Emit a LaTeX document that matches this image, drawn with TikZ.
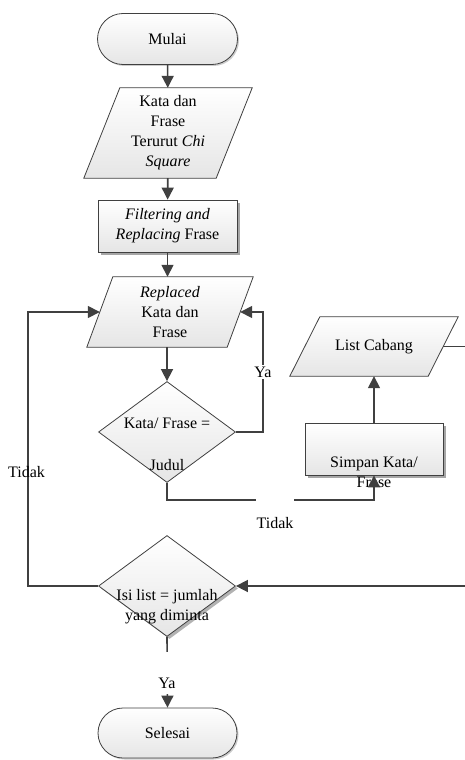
\documentclass[tikz,border=0pt]{standalone}
\usepackage{fontspec}
\setmainfont{Liberation Serif}
\usetikzlibrary{shapes.geometric,shapes.misc,arrows.meta,shadows,backgrounds}
\definecolor{ln}{HTML}{404040}
\tikzset{
  txt/.style={font=\fontsize{16}{20}\selectfont, align=center, inner sep=0pt},
  shapefill/.style={draw=ln, line width=0.8pt, top color=white, bottom color=black!10},
  term/.style={txt, shapefill, rounded rectangle, minimum width=140pt, minimum height=51pt,
    drop shadow={shadow xshift=1.5pt, shadow yshift=-1.5pt, fill=black!20, opacity=1}},
  proc/.style={txt, shapefill, rectangle, minimum width=139pt, minimum height=52pt,
    drop shadow={shadow xshift=2.5pt, shadow yshift=-2.5pt, fill=black!35, opacity=1}},
  decision/.style={shapefill, diamond, inner sep=0pt, minimum width=137pt, minimum height=101pt},
  decshadow/.style={drop shadow={shadow xshift=2.5pt, shadow yshift=-2.5pt, fill=black!30, opacity=1}},
  iobox/.style={txt, rectangle},
  conn/.style={draw=ln, line width=1.6pt, -{Triangle[length=12pt,width=12pt]}},
  plain/.style={draw=ln, line width=1.6pt},
  lbl/.style={txt, fill=white},
}
\newcommand{\paraback}[2]{%
  \begin{pgfonlayer}{background}
  \path[shapefill] ([xshift=#2]#1.north west) -- ([xshift=#2]#1.north east)
     -- ([xshift=-#2]#1.south east) -- ([xshift=-#2]#1.south west) -- cycle;
  \end{pgfonlayer}}
\begin{document}
\begin{tikzpicture}[x=1pt,y=-1pt]
\useasboundingbox (0,0) rectangle (465,760);

% nodes
\node[term] (start) at (167.5,39) {Mulai};
\node[iobox, minimum width=132pt, minimum height=90pt] (in1) at (168,133)
  {Kata dan\\Frase\\Terurut \textit{Chi}\\\textit{Square}};
\paraback{in1}{18pt}
\node[proc] (filt) at (167.5,226) {\textit{Filtering and}\\\textit{Replacing} Frase};
\node[iobox, minimum width=140pt, minimum height=70pt] (rep) at (170,312)
  {\textit{Replaced}\\Kata dan\\Frase};
\paraback{rep}{13pt}
\node[decision] (d1) at (167,432) {};
\node[txt] (d1t) at (167,444) {Kata/ Frase =\\[22pt]Judul};
\node[decision, decshadow] (d2) at (167,586) {};
\node[txt] (d2t) at (167,607) {Isi list = jumlah\\yang diminta};
\node[iobox, minimum width=138pt, minimum height=59pt] (list) at (374,346.5) {List Cabang};
\paraback{list}{15pt}
\node[proc, minimum width=138pt] (simp) at (374,449) {};
\node[txt] (simpt) at (374,472) {Simpan Kata/\\Frase};
\node[term, minimum width=139pt, minimum height=50pt] (end) at (167.5,733) {Selesai};

% fixed corners
\coordinate (yaR) at (263,432);
\coordinate (yaT) at (263,312);
\coordinate (tdB) at (167,500);
\coordinate (tdR) at (374,500);
\coordinate (lfB) at (28,586);
\coordinate (lfT) at (28,312);
\coordinate (rtT) at (467,346.5);
\coordinate (rtB) at (467,586);

% connectors
\draw[conn] (start) -- (in1);
\draw[conn] (in1) -- (filt);
\draw[conn] (filt) -- (rep.north -| filt);
\draw[conn] (rep.south -| d1) -- (d1.north);
\draw[conn] (d1.east) -- (yaR) -- (yaT) -- (rep.east);
\draw[conn] (d1.south) -- (tdB) -- (tdR) -- (simp.south);
\draw[conn] (simp.north) -- (list.south);
\draw[conn] (list.east) -- (rtT) -- (rtB) -- (d2.east);
\draw[conn] (d2.west) -- (lfB) -- (lfT) -- (rep.west);
\draw[conn] (d2.south) -- (end.north);

% labels
\node[lbl, inner sep=2pt] (ya1) at (263,372) {Ya};
\node[lbl, inner sep=1pt, anchor=base, text height=34pt, text depth=5pt] (tidak1) at (275,528) {Tidak};
\node[txt] (tidak2) at (26.5,472) {Tidak};
\node[lbl, inner sep=1pt, anchor=base, text height=35pt, text depth=5pt] (ya2) at (167,688) {Ya};
\end{tikzpicture}
\end{document}
